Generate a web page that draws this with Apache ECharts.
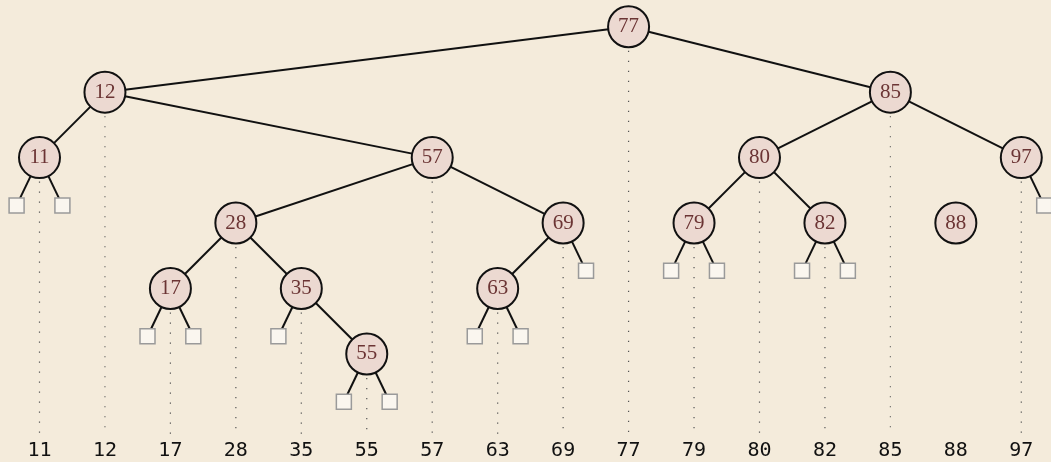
<!DOCTYPE html>
<html>
<head>
<meta charset="utf-8">
<script src="https://cdn.jsdelivr.net/npm/echarts@6/dist/echarts.min.js"></script>
<style>
html,body{margin:0;padding:0;background:#f4ebdb;}
#chart{width:1051px;height:462px;}
</style>
</head>
<body>
<div id="chart"></div>
<script>
// keys in sorted order (x-axis categories / tick labels)
const keys = ['11','12','17','28','35','55','57','63','69','77','79','80','82','85','88','97'];
// depth (tree level) of each key
const depths = [2, 1, 4, 3, 4, 5, 2, 4, 3, 0, 3, 2, 3, 1, 3, 2];
// parent of each key (null = root or detached)
const parentKeys = ['12','77','28','57','28','35','12','69','57',null,'80','85','80','77',null,'85'];
const rootKey = '77';
// null (empty) leaves: parent key and side (-1 left, +1 right)
const nullLeafParents = ['11','11','17','17','35','55','55','63','63','69','79','79','82','82','97'];
const nullLeafSides   = [-1, 1, -1, 1, -1, -1, 1, -1, 1, 1, -1, 1, -1, 1, 1];

// layout constants
const Y_MAX = 6.25;
const LEAF_DX = 0.35;
const LEAF_DY = 0.73;

const nodeData = keys.map((k, i) => [i, depths[i], k]);
const attached = keys.map((k, i) => i).filter(i => parentKeys[i] !== null || keys[i] === rootKey);
const guideData = attached.map(i => [i, depths[i]]);
const edgeData = [];
keys.forEach((k, i) => {
  if (parentKeys[i] !== null) {
    const j = keys.indexOf(parentKeys[i]);
    edgeData.push([i, depths[i], j, depths[j]]);
  }
});
const leafData = [];
nullLeafParents.forEach((p, n) => {
  const j = keys.indexOf(p);
  const lx = j + nullLeafSides[n] * LEAF_DX, ly = depths[j] + LEAF_DY;
  leafData.push([lx, ly]);
  edgeData.push([lx, ly, j, depths[j]]);
});

const chart = echarts.init(document.getElementById('chart'), null, {renderer: 'canvas'});
chart.setOption({
  backgroundColor: '#f4ebdb',
  animation: false,
  grid: {left: 39.5, right: 29.7, top: 26.7, bottom: 26.2},
  xAxis: {
    type: 'value', min: 0, max: keys.length - 1, interval: 1,
    axisLine: {show: false}, axisTick: {show: false}, splitLine: {show: false},
    axisLabel: {
      formatter: v => keys[v] !== undefined ? keys[v] : '',
      fontFamily: 'DejaVu Sans Mono', fontSize: 20, color: '#111', margin: 5,
      showMinLabel: true, showMaxLabel: true
    }
  },
  yAxis: {
    type: 'value', min: 0, max: Y_MAX, inverse: true, show: false
  },
  series: [
    {
      type: 'custom', clip: false, z: 1,
      data: guideData,
      encode: {x: 0, y: 1},
      renderItem: (params, api) => {
        const p = api.coord([api.value(0), api.value(1)]);
        const b = api.coord([api.value(0), Y_MAX]);
        return {
          type: 'line',
          shape: {x1: p[0], y1: p[1] + 24, x2: b[0], y2: b[1]},
          style: {stroke: '#555', lineWidth: 1.2, lineDash: [1.2, 8.8]}
        };
      }
    },
    {
      type: 'custom', clip: false, z: 2,
      data: edgeData,
      encode: {x: [0, 2], y: [1, 3]},
      renderItem: (params, api) => {
        const a = api.coord([api.value(0), api.value(1)]);
        const b = api.coord([api.value(2), api.value(3)]);
        return {
          type: 'line',
          shape: {x1: a[0], y1: a[1], x2: b[0], y2: b[1]},
          style: {stroke: '#111', lineWidth: 2}
        };
      }
    },
    {
      type: 'scatter', clip: false, z: 3,
      data: leafData,
      symbol: 'rect', symbolSize: 15,
      itemStyle: {color: '#faf6ef', borderColor: '#9a9a9a', borderWidth: 1.5, opacity: 1}
    },
    {
      type: 'scatter', clip: false, z: 4,
      data: nodeData,
      symbol: 'circle', symbolSize: 41,
      itemStyle: {color: '#ecd9d1', borderColor: '#111', borderWidth: 2, opacity: 1},
      label: {
        show: true, position: 'inside',
        formatter: p => p.data[2],
        fontFamily: 'Liberation Serif', fontSize: 21, color: '#6b3434'
      }
    }
  ]
});
</script>
</body>
</html>
